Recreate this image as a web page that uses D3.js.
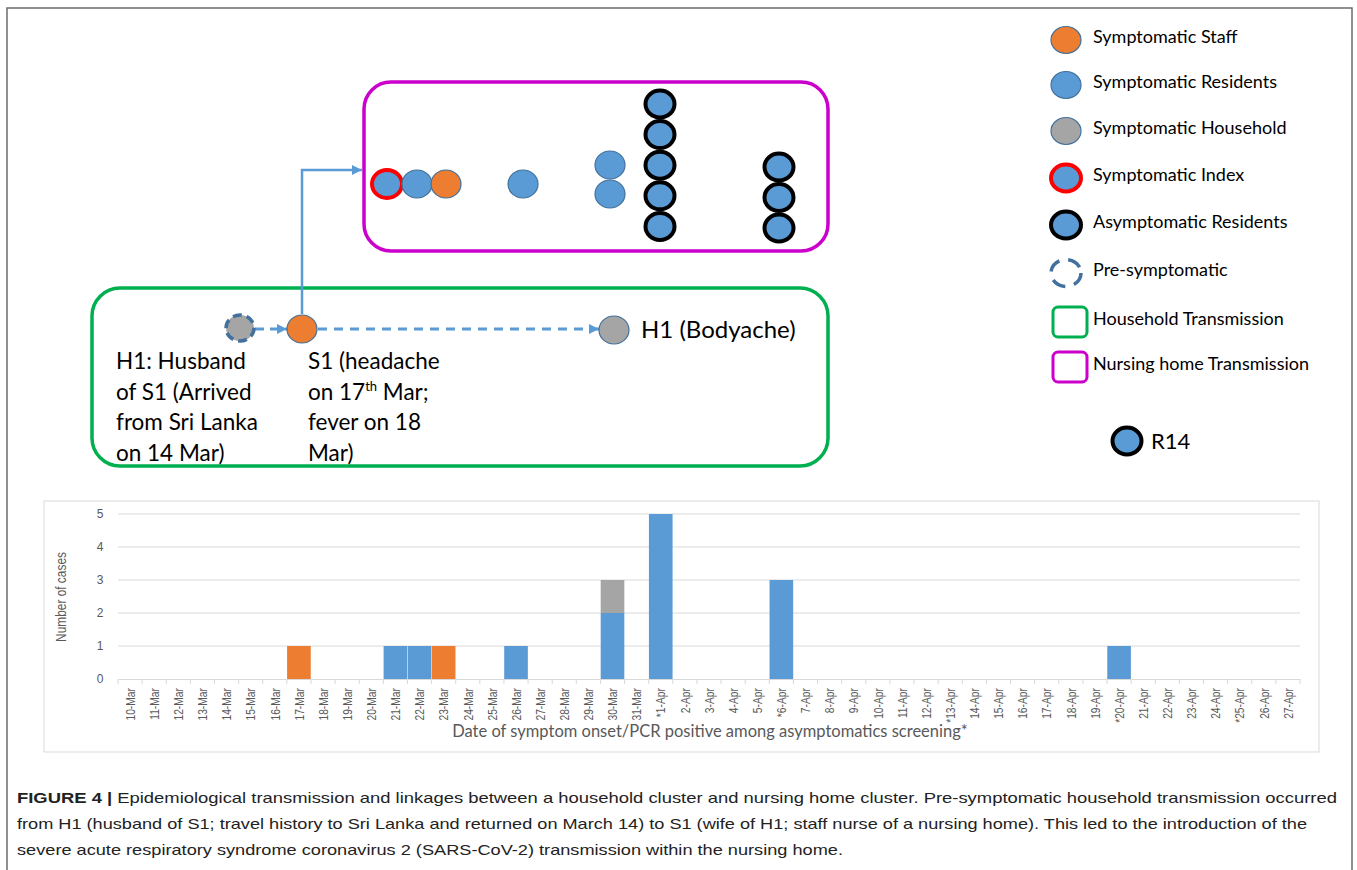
<!DOCTYPE html>
<html><head><meta charset="utf-8">
<script src="https://cdn.jsdelivr.net/npm/d3@7/dist/d3.min.js"></script>
<style>body{margin:0;background:#fff}svg{display:block}</style>
</head><body>
<svg id="fig" width="1357" height="870"></svg>
<script>
// ---------- DATA ----------
const dates = ["10-Mar","11-Mar","12-Mar","13-Mar","14-Mar","15-Mar","16-Mar","17-Mar","18-Mar","19-Mar",
  "20-Mar","21-Mar","22-Mar","23-Mar","24-Mar","25-Mar","26-Mar","27-Mar","28-Mar","29-Mar",
  "30-Mar","31-Mar","*1-Apr","2-Apr","3-Apr","4-Apr","5-Apr","*6-Apr","7-Apr","8-Apr",
  "9-Apr","10-Apr","11-Apr","12-Apr","*13-Apr","14-Apr","15-Apr","16-Apr","17-Apr","18-Apr",
  "19-Apr","*20-Apr","21-Apr","22-Apr","23-Apr","24-Apr","*25-Apr","26-Apr","27-Apr"];
const staffCases     = [0,0,0,0,0,0,0,1,0,0, 0,0,0,1,0,0,0,0,0,0, 0,0,0,0,0,0,0,0,0,0, 0,0,0,0,0,0,0,0,0,0, 0,0,0,0,0,0,0,0,0];
const residentCases  = [0,0,0,0,0,0,0,0,0,0, 0,1,1,0,0,0,1,0,0,0, 2,0,5,0,0,0,0,3,0,0, 0,0,0,0,0,0,0,0,0,0, 0,1,0,0,0,0,0,0,0];
const householdCases = [0,0,0,0,0,0,0,0,0,0, 0,0,0,0,0,0,0,0,0,0, 1,0,0,0,0,0,0,0,0,0, 0,0,0,0,0,0,0,0,0,0, 0,0,0,0,0,0,0,0,0];
const yTicks = [0,1,2,3,4,5];
const yTitle = "Number of cases";
const xTitle = "Date of symptom onset/PCR positive among asymptomatics screening*";

const legendCircleItems = [
  {type:"staff", label:"Symptomatic Staff"},
  {type:"resident", label:"Symptomatic Residents"},
  {type:"household", label:"Symptomatic Household"},
  {type:"index", label:"Symptomatic Index"},
  {type:"asymp", label:"Asymptomatic Residents"},
  {type:"presym", label:"Pre-symptomatic"}];
const legendBoxItems = [
  {type:"household", label:"Household Transmission"},
  {type:"nursing", label:"Nursing home Transmission"}];
const nursingHomeGroups = [["index"],["resident"],["staff"],["resident"],
  ["resident","resident"],["asymp","asymp","asymp","asymp","asymp"],["asymp","asymp","asymp"]];
const h1Lines = ["H1: Husband","of S1 (Arrived","from Sri Lanka","on 14 Mar)"];
const s1Lines = [["S1 (headache"],["on 17","th"," Mar;"],["fever on 18"],["Mar)"]];
const captionLines = [
  ["FIGURE 4 |"," Epidemiological transmission and linkages between a household cluster and nursing home cluster. Pre-symptomatic household transmission occurred"],
  ["","from H1 (husband of S1; travel history to Sri Lanka and returned on March 14) to S1 (wife of H1; staff nurse of a nursing home). This led to the introduction of the"],
  ["","severe acute respiratory syndrome coronavirus 2 (SARS-CoV-2) transmission within the nursing home."]];

// ---------- STYLES ----------
const BLUE="#5B9BD5", ORANGE="#ED7D31", GRAY="#A5A5A5", EDGE="#41719C";
const nodeStyle = {
  staff:{fill:ORANGE, stroke:EDGE, sw:1.2},
  resident:{fill:BLUE, stroke:EDGE, sw:1.2},
  household:{fill:GRAY, stroke:EDGE, sw:1.2},
  index:{fill:BLUE, stroke:"#FF0000", sw:4},
  asymp:{fill:BLUE, stroke:"#000", sw:4},
  presym:{fill:"none", stroke:EDGE, sw:3.5, dash:"14,9"}
};
const svg = d3.select("#fig");
const font = "Lato, 'Open Sans', sans-serif";
const sans = "'Liberation Sans',Arial,sans-serif";

// outer frame
svg.append("rect").attr("x",7).attr("y",8).attr("width",1345).attr("height",900)
  .attr("fill","none").attr("stroke","#6b6b6b").attr("stroke-width",1.5);

// markers
const defs = svg.append("defs");
defs.append("marker").attr("id","arr").attr("viewBox","0 0 10 10").attr("refX",10).attr("refY",5)
  .attr("markerWidth",11).attr("markerHeight",10).attr("markerUnits","userSpaceOnUse").attr("orient","auto")
  .append("path").attr("d","M0,0L10,5L0,10Z").attr("fill",BLUE);

function node(g, type, cx, cy, rx, ry){
  const s = nodeStyle[type];
  const e = g.append("ellipse").attr("cx",cx).attr("cy",cy).attr("rx",rx).attr("ry",ry)
    .attr("fill",s.fill).attr("stroke",s.stroke).attr("stroke-width",s.sw);
  if(s.dash) e.attr("stroke-dasharray",s.dash);
  return e;
}

// ---------- DIAGRAM ----------
const dg = svg.append("g");
dg.append("rect").attr("x",364).attr("y",82).attr("width",464).attr("height",169).attr("rx",27)
  .attr("fill","none").attr("stroke","#CC00CC").attr("stroke-width",3.5);
dg.append("rect").attr("x",92).attr("y",288).attr("width",736).attr("height",178).attr("rx",28)
  .attr("fill","none").attr("stroke","#00B050").attr("stroke-width",3.5);

// nursing home nodes (schematic layout)
const colX = [387,417,446,523,610,660,779];
const colTop = [184,184,184,184,165,104,167];
const colStep = [0,0,0,0,29,30.6,30.5];
nursingHomeGroups.forEach((grp,i)=>{
  grp.forEach((t,j)=> node(dg, t, colX[i], colTop[i]+j*colStep[i], t==="asymp"?14.5:15, t==="asymp"?13.5:14));
});

// household chain
dg.append("path").attr("d","M302,314V170H362").attr("fill","none").attr("stroke",BLUE).attr("stroke-width",2.5)
  .attr("marker-end","url(#arr)");
dg.append("line").attr("x1",255).attr("y1",329).attr("x2",287).attr("y2",329)
  .attr("stroke",BLUE).attr("stroke-width",3).attr("stroke-dasharray","9,6").attr("marker-end","url(#arr)");
dg.append("line").attr("x1",318).attr("y1",329).attr("x2",599).attr("y2",329)
  .attr("stroke",BLUE).attr("stroke-width",3).attr("stroke-dasharray","9,7").attr("marker-end","url(#arr)");
dg.append("ellipse").attr("cx",240).attr("cy",328).attr("rx",14).attr("ry",13)
  .attr("fill",GRAY).attr("stroke",EDGE).attr("stroke-width",3.5).attr("stroke-dasharray","9,5");
node(dg,"staff",302,329,15,14);
node(dg,"household",614,330,15,14);

dg.append("text").attr("x",641).attr("y",338).attr("font-family",font).attr("font-size",24).attr("fill","#000").text("H1 (Bodyache)");
h1Lines.forEach((l,i)=> dg.append("text").attr("x",116).attr("y",369+i*30.5).attr("font-family",font).attr("font-size",22.5).text(l));
s1Lines.forEach((parts,i)=>{
  const t = dg.append("text").attr("x",308).attr("y",369+i*30.5).attr("font-family",font).attr("font-size",22.5);
  parts.forEach((p,k)=>{
    const ts = t.append("tspan").text(p);
    if(p==="th"){ ts.attr("font-size",13).attr("dy",-9); }
    else if(k>0 && parts[k-1]==="th"){ ts.attr("dy",9); }
  });
});

// ---------- LEGEND ----------
const lg = svg.append("g");
const legY = [40,85,131,178,225,273];
legendCircleItems.forEach((d,i)=>{
  node(lg, d.type, 1066, legY[i], 15, 13.5);
  lg.append("text").attr("x",1093).attr("y",legY[i]+1).attr("dy","0.1em").attr("font-family",font).attr("font-size",18).text(d.label);
});
const boxY=[322,367], boxCol={household:"#00B050", nursing:"#CC00CC"};
legendBoxItems.forEach((d,i)=>{
  lg.append("rect").attr("x",1053).attr("y",boxY[i]-15).attr("width",34).attr("height",30).attr("rx",5)
    .attr("fill","none").attr("stroke",boxCol[d.type]).attr("stroke-width",3);
  lg.append("text").attr("x",1093).attr("y",boxY[i]+1).attr("dy","0.1em").attr("font-family",font).attr("font-size",18).text(d.label);
});
node(lg,"asymp",1127,441,14.5,13.5);
lg.append("text").attr("x",1151).attr("y",449).attr("font-family",font).attr("font-size",22).text("R14");

// ---------- BAR CHART ----------
const cg = svg.append("g");
cg.append("rect").attr("x",44).attr("y",501).attr("width",1275).attr("height",251)
  .attr("fill","#fff").attr("stroke","#D9D9D9").attr("stroke-width",1);
const x = d3.scaleBand().domain(dates).range([118,1300]).paddingInner(0.02).paddingOuter(0.01);
const y = d3.scaleLinear().domain([0,5]).range([679,514]);
const step = x.step();

cg.append("g").selectAll("line").data(yTicks.slice(1)).join("line")
  .attr("x1",118).attr("x2",1300).attr("y1",d=>y(d)).attr("y2",d=>y(d))
  .attr("stroke","#D9D9D9").attr("stroke-width",1);
cg.append("g").selectAll("text").data(yTicks).join("text")
  .attr("x",100).attr("y",d=>y(d)).attr("dy","0.35em").attr("text-anchor","middle")
  .attr("font-family",sans).attr("font-size",12).attr("fill","#595959").text(d=>d);

const rows = dates.map((d,i)=>({date:d, residents:residentCases[i], household:householdCases[i], staff:staffCases[i]}));
const stack = d3.stack().keys(["residents","household","staff"])(rows);
const colors = {residents:BLUE, household:GRAY, staff:ORANGE};
cg.append("g").selectAll("g").data(stack).join("g").attr("fill",d=>colors[d.key])
  .selectAll("rect").data(d=>d.filter(p=>p[1]>p[0])).join("rect")
  .attr("x",p=>x(p.data.date)).attr("width",x.bandwidth())
  .attr("y",p=>y(p[1])).attr("height",p=>y(p[0])-y(p[1]));

const xa = d3.axisBottom(x).tickSize(0).tickSizeOuter(0);
const axG = cg.append("g").attr("transform","translate(0,679)").call(xa);
axG.select(".domain").attr("stroke","#D9D9D9");
axG.selectAll(".tick text").attr("transform","rotate(-90) scale(0.76,1)").attr("x",-12).attr("y",0).attr("dy","0.35em")
  .attr("text-anchor","end").attr("font-family",sans)
  .attr("font-size",13.5).attr("fill","#595959");
cg.append("g").selectAll("line").data(dates.concat(["end"])).join("line")
  .attr("x1",(d,i)=>118+i*step).attr("x2",(d,i)=>118+i*step)
  .attr("y1",679).attr("y2",684).attr("stroke","#D9D9D9");

cg.append("text").attr("transform","translate(66,597) rotate(-90) scale(0.85,1)").attr("text-anchor","middle")
  .attr("font-family",sans).attr("font-size",14).attr("fill","#595959").text(yTitle);
cg.append("text").attr("x",710).attr("y",737).attr("text-anchor","middle")
  .attr("font-family",font).attr("font-size",16.5).attr("fill","#595959").text(xTitle);

// ---------- CAPTION ----------
const capW=[1320,1290,826];
captionLines.forEach((l,i)=>{
  const t = svg.append("text").attr("x",17).attr("y",803+i*26).attr("font-family",sans)
    .attr("font-size",15).attr("fill","#222").attr("textLength",capW[i]).attr("lengthAdjust","spacingAndGlyphs");
  if(l[0]) t.append("tspan").attr("font-weight","bold").text(l[0]);
  t.append("tspan").text(l[1]);
});
</script>
</body></html>
